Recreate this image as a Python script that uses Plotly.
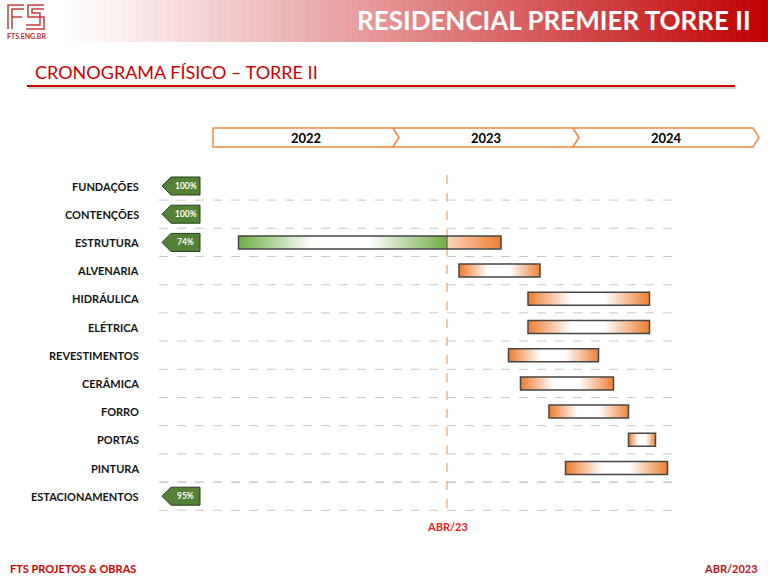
import plotly.graph_objects as go

# ---------------- data ----------------
tasks = ["FUNDAÇÕES", "CONTENÇÕES", "ESTRUTURA", "ALVENARIA", "HIDRÁULICA", "ELÉTRICA",
         "REVESTIMENTOS", "CERÂMICA", "FORRO", "PORTAS", "PINTURA", "ESTACIONAMENTOS"]
# months counted from Jan/2022 (0 = start of Jan 2022)
bar_start = [None, None, 1.7, 16.4, 21.0, 21.0, 19.7, 20.5, 22.4, 27.7, 23.5, None]
bar_end   = [None, None, 19.2, 21.8, 29.1, 29.1, 25.7, 26.7, 27.7, 29.5, 30.3, None]
progress  = [100, 100, 74, None, None, None, None, None, None, None, None, 95]
status_month = 15.6
status_label = "ABR/23"
years = ["2022", "2023", "2024"]

title = "RESIDENCIAL PREMIER TORRE II"
subtitle = "CRONOGRAMA FÍSICO – TORRE II"
footer_left = "FTS PROJETOS & OBRAS"
footer_right = "ABR/2023"

# ---------------- geometry helpers (pixel -> data) ----------------
W, H = 768, 576
X0PX, PXM = 213.0, 15.0          # pixel of month 0, pixels per month
Y0PX, PXR = 186.0, 28.2          # pixel of row 0, pixels per row
def px2x(p): return (p - X0PX) / PXM
def py2y(p): return (p - Y0PX) / PXR

FONT = "Lato"
ORANGE = (237, 125, 49)
GREEN = (112, 173, 71)
WHITE = (255, 255, 255)

def mix(c1, c2, f):
    return "rgb(%d,%d,%d)" % tuple(round(a + (b - a) * f) for a, b in zip(c1, c2))
def rgb(c):
    return "rgb(%d,%d,%d)" % c

shapes = []
annotations = []
fig = go.Figure()

# header gradient
NH = 120
for i in range(NH):
    x0 = i / NH
    x1 = (i + 1) / NH
    t = (x0 + x1) / 2
    f = max(0.0, (t - 0.08) / 0.92)
    f = f ** 1.1
    col = mix(WHITE, (192, 0, 0), f)
    shapes.append(dict(type="rect", xref="paper", yref="paper", x0=x0, x1=x1 + 0.002,
                       y0=1 - 42 / H, y1=1, fillcolor=col, line=dict(width=0), layer="below"))

# logo (stylised FS)
def pp(x, y):
    return "%f,%f" % (x / W, 1 - y / H)
logo_paths = [
    "M %s L %s L %s" % (pp(8, 29), pp(8, 5), pp(24, 5)),
    "M %s L %s L %s" % (pp(12, 29), pp(12, 9), pp(24, 9)),
    "M %s L %s" % (pp(12, 17), pp(22, 17)),
    "M %s L %s L %s L %s L %s L %s" % (pp(44, 5), pp(28, 5), pp(28, 17), pp(44, 17), pp(44, 29), pp(26, 29)),
    "M %s L %s L %s L %s L %s L %s" % (pp(44, 9), pp(32, 9), pp(32, 13), pp(40, 13), pp(40, 25), pp(26, 25)),
]
for p in logo_paths:
    shapes.append(dict(type="path", xref="paper", yref="paper", path=p,
                       line=dict(color="rgb(200,60,60)", width=1.5)))
annotations.append(dict(text="<b>FTS.ENG.BR</b>", xref="paper", yref="paper", x=5 / W, y=1 - 36 / H,
                        xanchor="left", yanchor="middle", showarrow=False,
                        font=dict(family=FONT, size=7, color="rgb(190,40,40)")))

# title
annotations.append(dict(text="<b>%s</b>" % title, xref="paper", yref="paper", x=753 / W, y=1 - 20 / H,
                        xanchor="right", yanchor="middle", showarrow=False,
                        font=dict(family=FONT, size=26, color="white")))

# subtitle and red rule
annotations.append(dict(text=subtitle, xref="paper", yref="paper", x=33 / W, y=1 - 72 / H,
                        xanchor="left", yanchor="middle", showarrow=False,
                        font=dict(family=FONT, size=18, color="rgb(204,0,0)")))
shapes.append(dict(type="line", xref="paper", yref="paper", x0=28 / W, x1=736 / W,
                   y0=1 - 88 / H, y1=1 - 88 / H, line=dict(color="rgba(0,0,0,0.18)", width=2)))
shapes.append(dict(type="line", xref="paper", yref="paper", x0=27 / W, x1=735 / W,
                   y0=1 - 86 / H, y1=1 - 86 / H, line=dict(color="rgb(204,0,0)", width=2)))

# year band chevrons
yt, yb = py2y(128), py2y(147)
ym = (yt + yb) / 2
d = 0.4
for k, yr in enumerate(years):
    x0, x1 = 12 * k, 12 * k + 12
    pts = [(x0, yt), (x1, yt), (x1 + d, ym), (x1, yb), (x0, yb)]
    if k > 0:
        pts.append((x0 + d, ym))
    path = "M " + " L ".join("%f,%f" % p for p in pts) + " Z"
    shapes.append(dict(type="path", xref="x", yref="y", path=path, fillcolor="white",
                       line=dict(color="rgb(240,140,70)", width=1.5)))
    annotations.append(dict(text="<b>%s</b>" % yr, x=(x0 + x1) / 2 + d / 2, y=ym, xref="x", yref="y",
                            showarrow=False, font=dict(family=FONT, size=13, color="black")))

# gridlines
gx0, gx1 = px2x(159), px2x(680)
for i in range(len(tasks)):
    ys = [i + 0.5]
    if i == len(tasks) - 1:
        ys.append(i - 0.5)
    for yy in ys:
        shapes.append(dict(type="line", xref="x", yref="y", x0=gx0, x1=gx1, y0=yy, y1=yy,
                           line=dict(color="rgb(200,200,200)", width=1, dash="dash"), layer="below"))

# status line
shapes.append(dict(type="line", xref="x", yref="y", x0=status_month, x1=status_month,
                   y0=py2y(175), y1=py2y(514), line=dict(color="rgb(244,160,100)", width=1.2, dash="dash")))
annotations.append(dict(text="<b>%s</b>" % status_label, x=status_month, y=py2y(526), xref="x", yref="y",
                        showarrow=False, font=dict(family=FONT, size=11, color="rgb(230,30,30)")))

# bars drawn as smooth heatmaps (gradient fill)
HB = 6.5 / PXR
NSEG = 40

def grad_bar(x0, x1, y, colorscale):
    xs = [x0 + (x1 - x0) * s / NSEG for s in range(NSEG + 1)]
    ts = [(s + 0.5) / NSEG for s in range(NSEG)]
    fig.add_trace(go.Heatmap(x=xs, y=[y - HB, y, y + HB], z=[ts, ts], zmin=0, zmax=1,
                             colorscale=colorscale, showscale=False, zsmooth="best",
                             hoverinfo="skip"))

def reflected(c):
    return [[0, rgb(c)], [0.35, "white"], [0.62, "white"], [1, rgb(c)]]

linear_orange = [[0, "rgb(250,212,188)"], [1, rgb(ORANGE)]]

for i, name in enumerate(tasks):
    annotations.append(dict(text="<b>%s</b>" % name, x=px2x(141), y=i, xref="x", yref="y",
                            xanchor="right", showarrow=False,
                            font=dict(family=FONT, size=11, color="rgb(20,20,20)")))
    s, e = bar_start[i], bar_end[i]
    if s is not None:
        if s < status_month < e:
            grad_bar(s, status_month, i, reflected(GREEN))
            grad_bar(status_month, e, i, linear_orange)
            shapes.append(dict(type="line", xref="x", yref="y", x0=status_month, x1=status_month,
                               y0=i - HB, y1=i + HB, line=dict(color="rgb(80,80,80)", width=1)))
        else:
            grad_bar(s, e, i, reflected(ORANGE))
        shapes.append(dict(type="rect", xref="x", yref="y", x0=s, x1=e, y0=i - HB, y1=i + HB,
                           line=dict(color="rgb(70,70,70)", width=1.5)))
    p = progress[i]
    if p is not None:
        bx0, bxn, bx1 = px2x(162), px2x(171), px2x(200)
        h = 9 / PXR
        path = "M %f,%f L %f,%f L %f,%f L %f,%f L %f,%f Z" % (
            bx0, i, bxn, i - h, bx1, i - h, bx1, i + h, bxn, i + h)
        shapes.append(dict(type="path", xref="x", yref="y", path=path,
                           fillcolor="rgb(84,130,53)", line=dict(color="rgb(40,60,30)", width=1)))
        annotations.append(dict(text="<b>%d%%</b>" % p, x=(bxn + bx1) / 2, y=i, xref="x", yref="y",
                                showarrow=False, font=dict(family=FONT, size=8.5, color="white")))

# footer
annotations.append(dict(text="<b>%s</b>" % footer_left, xref="paper", yref="paper", x=8 / W, y=1 - 568 / H,
                        xanchor="left", yanchor="middle", showarrow=False,
                        font=dict(family=FONT, size=11, color="rgb(204,0,0)")))
annotations.append(dict(text="<b>%s</b>" % footer_right, xref="paper", yref="paper", x=760 / W, y=1 - 568 / H,
                        xanchor="right", yanchor="middle", showarrow=False,
                        font=dict(family=FONT, size=11, color="rgb(180,20,20)")))

fig.update_layout(
    width=W, height=H, margin=dict(l=0, r=0, t=0, b=0, pad=0),
    paper_bgcolor="white", plot_bgcolor="white",
    xaxis=dict(range=[px2x(0), px2x(W)], visible=False, fixedrange=True),
    yaxis=dict(range=[py2y(H), py2y(0)], visible=False, fixedrange=True),
    shapes=shapes, annotations=annotations, showlegend=False,
)
fig.write_html("out.html")
